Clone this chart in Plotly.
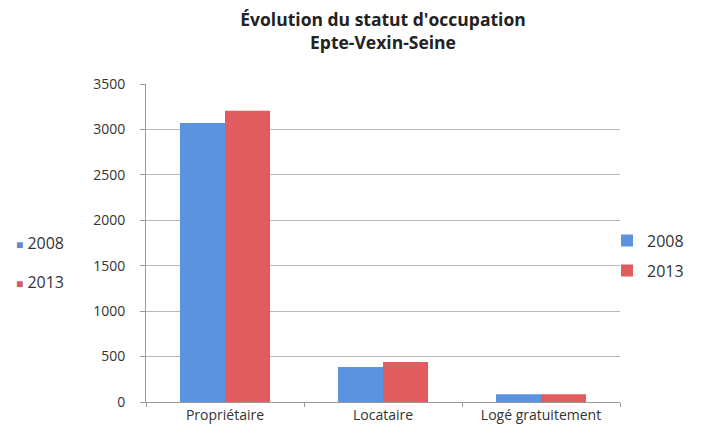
import plotly.graph_objects as go

categories = ["Propriétaire", "Locataire", "Logé gratuitement"]
series_names = ["2008", "2013"]
values_2008 = [3070, 385, 85]
values_2013 = [3205, 440, 85]

colors = {"2008": "#5b93de", "2013": "#e05c5e"}
legend_colors = {"2008": "#6a87c8", "2013": "#d45a6a"}

# plot area in pixels
L, R, T, B = 146, 84, 84, 39
PW, PH = 704 - L - R, 441 - T - B

fig = go.Figure()
for name, vals in zip(series_names, [values_2008, values_2013]):
    fig.add_trace(go.Bar(x=categories, y=vals, name=name,
                         marker=dict(color=colors[name], line=dict(width=0)),
                         legendgroup=name))

# second copy of the legend on the left, as text
left_rows = [243, 282]
for name, ypix in zip(series_names, left_rows):
    fig.add_annotation(
        text="<span style='color:%s;font-size:12px'>■</span> %s" % (legend_colors[name], name),
        xref="paper", yref="paper", x=(14 - L) / PW, y=(441 - B - ypix) / PH,
        xanchor="left", yanchor="middle", showarrow=False,
        font=dict(size=16, color="#333333"))

fig.update_layout(
    width=704, height=441,
    margin=dict(l=L, r=R, t=T, b=B, autoexpand=False),
    paper_bgcolor="white", plot_bgcolor="white",
    font=dict(family="Open Sans, Liberation Sans, sans-serif", color="#333333", size=14),
    title=dict(text="<b>Évolution du statut d'occupation<br>Epte-Vexin-Seine</b>",
               x=(L + 704 - R) / 2 / 704, xanchor="center", y=0.94, yanchor="top",
               font=dict(size=17.5, color="#222222")),
    barmode="group", bargap=0.43, bargroupgap=0,
    showlegend=True,
    legend=dict(x=(607 - L) / PW, xanchor="left", y=0.46, yanchor="middle",
                font=dict(size=16, color="#333333"), itemwidth=30,
                tracegroupgap=6, bgcolor="rgba(0,0,0,0)"),
)
fig.update_xaxes(showline=True, linecolor="#999999", linewidth=1,
                 ticks="outside", ticklen=4, tickcolor="#999999",
                 tickson="boundaries", showgrid=False,
                 tickfont=dict(size=14, color="#333333"))
fig.update_yaxes(range=[0, 3500], dtick=500, showline=True, linecolor="#999999",
                 linewidth=1, ticks="outside", ticklen=5, tickcolor="#999999",
                 gridcolor="#b8b8b8", gridwidth=1, zeroline=False,
                 tickfont=dict(size=14, color="#333333"), ticklabelstandoff=12)

# the page body has a default 8px margin; drop it so the chart sits at 0,0
fig.write_html("out.html", config={"displayModeBar": False},
               post_script="document.body.style.margin='0';")
